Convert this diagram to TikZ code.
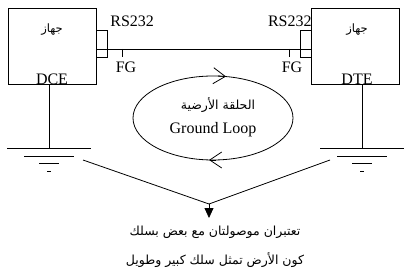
\documentclass[tikz,border=0pt]{standalone}
\usepackage{fontspec}
\setmainfont{Liberation Serif}
\newfontfamily\arabicfont[Script=Arabic]{DejaVu Sans}
\TeXXeTstate=1
\usetikzlibrary{arrows.meta,shapes.geometric}
\begin{document}
\begin{tikzpicture}[x=1pt,y=-1pt,line width=0.8pt,
  devbox/.style={draw,minimum width=88pt,minimum height=76pt,inner sep=0pt},
  plug/.style={draw,minimum width=11pt,minimum height=27pt,inner sep=0pt},
  lat/.style={inner sep=0pt,font=\fontsize{16}{19}\selectfont},
  arsmall/.style={inner sep=0pt,font=\arabicfont\fontsize{11.5}{13}\selectfont},
  arbig/.style={inner sep=0pt,font=\arabicfont\fontsize{12.5}{15}\selectfont}]
\useasboundingbox (0,0) rectangle (409,275);
% devices
\node[lat,anchor=base] (dceT) at (52,85) {DCE};
\node[lat,anchor=base] (dteT) at (357,85) {DTE};
\node[devbox] (dce) at (52,46) {};
\node[devbox] (dte) at (355.5,46) {};
\node[arsmall] (dceA) at (52,30) {\beginR جهاز\endR};
\node[arsmall] (dteA) at (357,30) {\beginR جهاز\endR};
% plugs
\node[plug] (pl) at (101.5,43.5) {};
\node[plug] (pr) at (306,43.5) {};
\coordinate (la) at (96,49);
\coordinate (ra) at (312,49);
\draw (la) -- (ra);
\node[lat,anchor=base west] (rsl) at (110,27) {RS232};
\node[lat,anchor=base east] (rsr) at (312,27) {RS232};
\coordinate (fgl) at (122,49);
\coordinate (fgr) at (289,49);
\draw (fgl) -- ++(0,8);
\draw (fgr) -- ++(0,8);
\node[lat,anchor=base] (fglT) at (126,73) {FG};
\node[lat,anchor=base] (fgrT) at (292,73) {FG};
% grounds
\coordinate (gl) at (49,148);
\coordinate (gr) at (362,148);
\draw (dce.south -| gl) -- (gl);
\draw (dte.south -| gr) -- (gr);
\foreach \g in {gl,gr}{
  \draw ([xshift=-42pt]\g) -- ([xshift=42pt]\g);
  \draw ([shift={(-25pt,8)}]\g) -- ([shift={(25pt,8)}]\g);
  \draw ([shift={(-10pt,15)}]\g) -- ([shift={(10pt,15)}]\g);
  \draw ([shift={(-2pt,23)}]\g) -- ([shift={(2pt,23)}]\g);
}
% loop
\node[draw,ellipse,minimum width=160pt,minimum height=84pt,inner sep=0pt] (loop) at (213,118) {};
\node[arbig] (loopA) at (218,105) {\beginR الحلقة الأرضية\endR};
\node[lat] (loopT) at (213,130) {Ground Loop};
\draw[-{Straight Barb[length=12pt,width=16pt]}] (218,76) -- (226,76.5);
\draw[-{Straight Barb[length=12pt,width=16pt]}] (216,160) -- (209,160);
% V and arrow
\coordinate (vl) at (83,160);
\coordinate (vr) at (330,160);
\coordinate (vm) at (209,204);
\coordinate (vt) at (209,218);
\draw (vl) -- (vm) -- (vr);
\draw[-{Triangle[length=10pt,width=9pt]}] (vm) -- (vt);
\node[arbig] (n1) at (215,232) {\beginR تعتبران موصولتان مع بعض بسلك\endR};
\node[arbig] (n2) at (215,260) {\beginR كون الأرض تمثل سلك كبير وطويل\endR};
\end{tikzpicture}
\end{document}
